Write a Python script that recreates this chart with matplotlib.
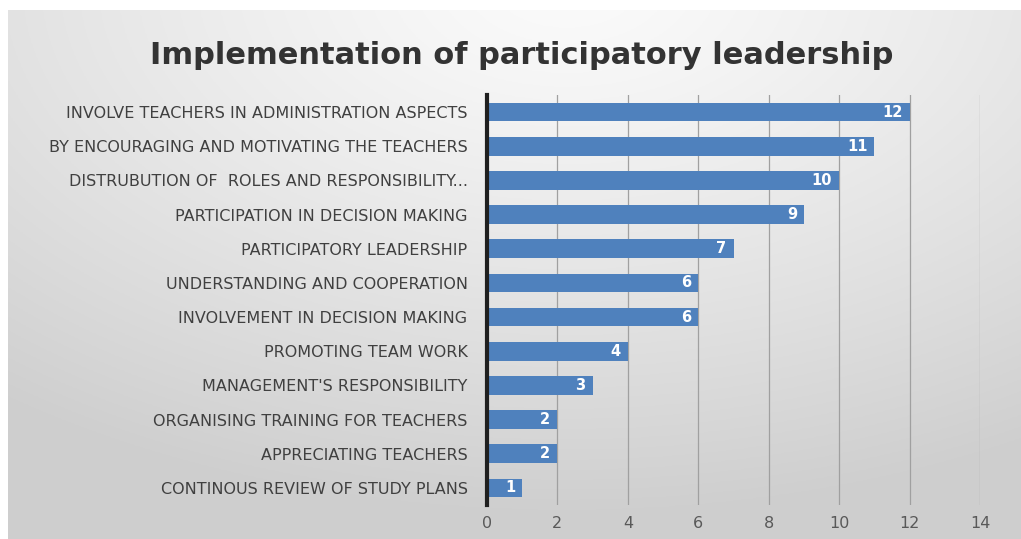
import numpy as np
import matplotlib
matplotlib.use("Agg")
import matplotlib.pyplot as plt

categories = [
    "INVOLVE TEACHERS IN ADMINISTRATION ASPECTS",
    "BY ENCOURAGING AND MOTIVATING THE TEACHERS",
    "DISTRUBUTION OF  ROLES AND RESPONSIBILITY...",
    "PARTICIPATION IN DECISION MAKING",
    "PARTICIPATORY LEADERSHIP",
    "UNDERSTANDING AND COOPERATION",
    "INVOLVEMENT IN DECISION MAKING",
    "PROMOTING TEAM WORK",
    "MANAGEMENT'S RESPONSIBILITY",
    "ORGANISING TRAINING FOR TEACHERS",
    "APPRECIATING TEACHERS",
    "CONTINOUS REVIEW OF STUDY PLANS",
]
values = [12, 11, 10, 9, 7, 6, 6, 4, 3, 2, 2, 1]
xticks = [0, 2, 4, 6, 8, 10, 12, 14]
title = "Implementation of participatory leadership"

W, H = 1021, 539
fig = plt.figure(figsize=(W / 100, H / 100), dpi=100)
fig.patch.set_facecolor("white")

# gradient background panel
bg = fig.add_axes([8 / W, 0, 1 - 8 / W, 1 - 10 / H], zorder=0)
ny, nx = 200, 400
yy, xx = np.mgrid[0:ny, 0:nx]
cx, cy = nx * 0.55, -ny * 0.05
d = np.sqrt(((xx - cx) / nx) ** 2 + ((yy - cy) / ny) ** 2 * 0.8)
val = 0.985 - 0.2 * np.clip(d, 0, 1) ** 1.2
val = np.clip(val, 0.81, 1)
bg.imshow(np.dstack([val, val, val]), aspect="auto", extent=[0, 1, 0, 1])
bg.set_axis_off()

ax = fig.add_axes([487 / W, 1 - 505 / H, (980 - 487) / W, (505 - 95) / H], zorder=1)
ax.set_facecolor("none")
y = np.arange(len(categories))[::-1]
ax.barh(y, values, height=0.55, color="#4F81BD", zorder=3)
ax.set_xlim(0, 14)
ax.set_ylim(-0.5, len(categories) - 0.5)
ax.set_xticks(xticks)
ax.set_xticklabels([str(t) for t in xticks], color="#595959", fontsize=11.5)
ax.set_yticks(y)
ax.set_yticklabels(categories, color="#404040", fontsize=11.5)
ax.tick_params(axis="both", length=0)
ax.tick_params(axis="y", pad=14)
ax.tick_params(axis="x", pad=8)
ax.xaxis.grid(True, color="#a0a0a0", linewidth=0.9, zorder=0)
ax.set_axisbelow(True)
for s in ["top", "right", "bottom"]:
    ax.spines[s].set_visible(False)
ax.spines["left"].set_color("#1f1f1f")
ax.spines["left"].set_linewidth(3)
ax.spines["left"].set_zorder(4)

for yi, v in zip(y, values):
    ax.text(v - 0.2, yi, str(v), ha="right", va="center", color="white",
            fontsize=10.5, fontweight="bold", zorder=5)

fig.text(522 / W, 1 - 55 / H, title, ha="center", va="center",
         fontsize=22, fontweight="bold", color="#333333")

fig.savefig("out.png", dpi=100)
